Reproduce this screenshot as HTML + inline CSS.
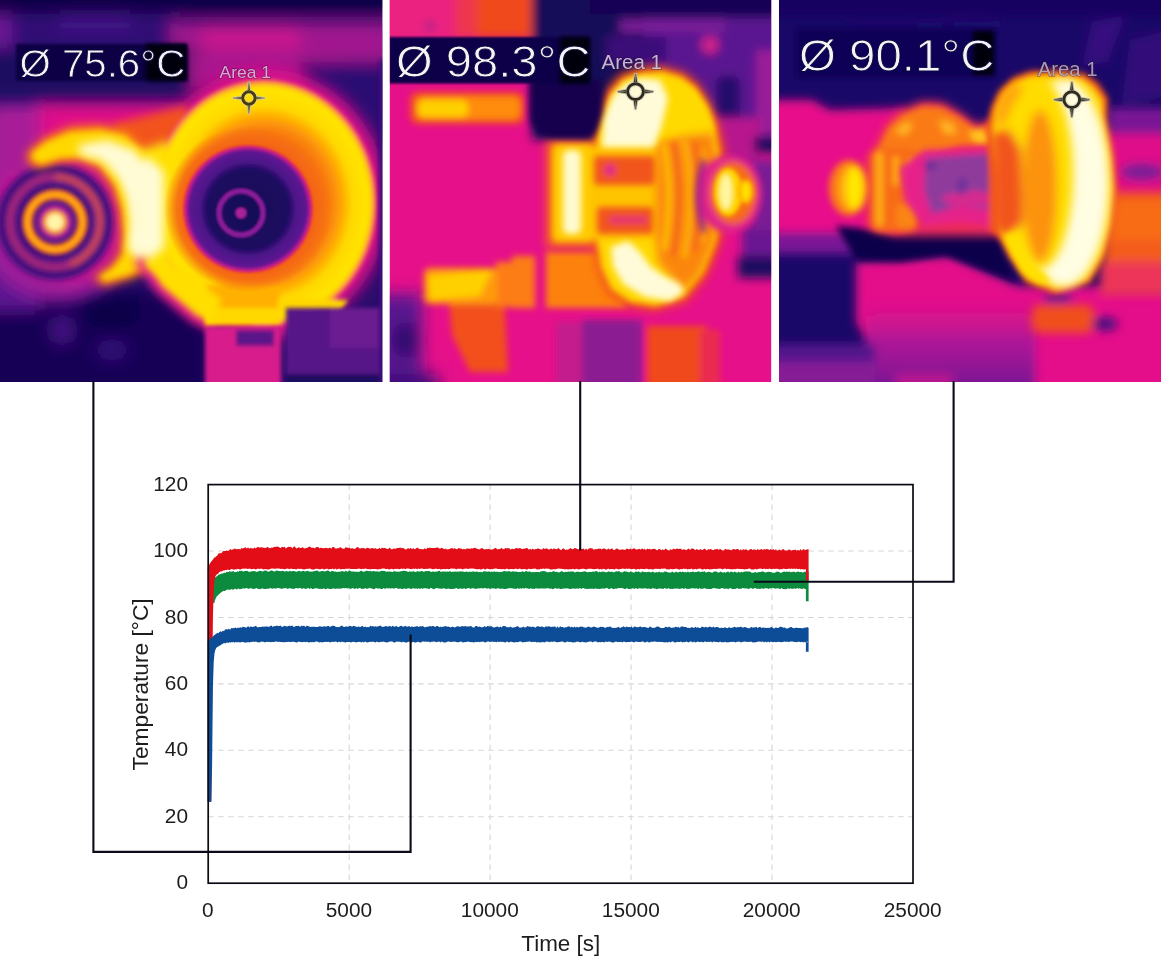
<!DOCTYPE html>
<html lang="en"><head><meta charset="utf-8"><title>Thermal images and temperature chart</title>
<style>
html,body{margin:0;padding:0;background:#fff;}
body{width:1161px;height:965px;overflow:hidden;font-family:"Liberation Sans",Arial,sans-serif;}
svg{display:block;}
</style></head><body>
<svg width="1161" height="965" viewBox="0 0 1161 965">
<rect width="1161" height="965" fill="#ffffff"/>
<defs>
<filter id="b1" x="-20%" y="-20%" width="140%" height="140%"><feGaussianBlur stdDeviation="1"/></filter>
<filter id="b2" x="-20%" y="-20%" width="140%" height="140%"><feGaussianBlur stdDeviation="2"/></filter>
<filter id="b3" x="-20%" y="-20%" width="140%" height="140%"><feGaussianBlur stdDeviation="3"/></filter>
<filter id="b5" x="-30%" y="-30%" width="160%" height="160%"><feGaussianBlur stdDeviation="5"/></filter>
<filter id="b8" x="-40%" y="-40%" width="180%" height="180%"><feGaussianBlur stdDeviation="8"/></filter>
<filter id="b12" x="-50%" y="-50%" width="200%" height="200%"><feGaussianBlur stdDeviation="12"/></filter>
<clipPath id="c1"><rect x="0" y="0" width="382.3" height="382"/></clipPath>
<clipPath id="c2"><rect x="389.8" y="0" width="381.4" height="382"/></clipPath>
<clipPath id="c3"><rect x="779" y="0" width="382" height="382"/></clipPath>
<radialGradient id="ring1" cx="0.5" cy="0.5" r="0.5">
<stop offset="0" stop-color="#f56a14"/><stop offset="0.46" stop-color="#f56a14"/><stop offset="0.6" stop-color="#fa820e"/><stop offset="0.7" stop-color="#ffac04"/>
<stop offset="0.78" stop-color="#ffd800"/><stop offset="0.93" stop-color="#ffe600"/><stop offset="0.97" stop-color="#ffa020"/><stop offset="1" stop-color="#e8208a"/>
</radialGradient>
<radialGradient id="hole1" cx="0.5" cy="0.5" r="0.5">
<stop offset="0" stop-color="#170756"/><stop offset="0.62" stop-color="#1c0960"/><stop offset="0.74" stop-color="#4c1588"/>
<stop offset="0.9" stop-color="#5e1792"/><stop offset="0.96" stop-color="#c41c8e"/><stop offset="1" stop-color="#ee3a3a"/>
</radialGradient>
<radialGradient id="glow1" cx="0.5" cy="0.5" r="0.5">
<stop offset="0.7" stop-color="#f25a18"/><stop offset="0.85" stop-color="#f56a14" stop-opacity="0.9"/><stop offset="1" stop-color="#f56a14" stop-opacity="0"/>
</radialGradient>
<linearGradient id="plate3" x1="0" y1="0" x2="0" y2="1"><stop offset="0" stop-color="#d0128c" stop-opacity="0"/><stop offset="0.45" stop-color="#a0189a" stop-opacity="0.8"/><stop offset="1" stop-color="#6c1692"/></linearGradient>
</defs>

<g clip-path="url(#c1)">
<rect x="0" y="0" width="383" height="383" fill="#2a0c6c"/>
<g filter="url(#b8)">
  <rect x="-20" y="-20" width="430" height="34" fill="#0b0446"/>
  <rect x="-20" y="14" width="200" height="30" fill="#300e76"/>
  <rect x="-20" y="16" width="32" height="50" fill="#6c1894"/>
  <rect x="60" y="16" width="70" height="14" fill="#44128a"/>
  <rect x="170" y="22" width="240" height="40" fill="#a0148e"/>
  <rect x="200" y="26" width="100" height="24" fill="#c8188e"/>
  <rect x="-20" y="48" width="225" height="48" fill="#1a0860"/>
  <rect x="190" y="52" width="150" height="36" fill="#a8168e"/>
  <rect x="300" y="62" width="100" height="80" fill="#2c0d72"/>
  <rect x="-20" y="112" width="70" height="100" fill="#7a1a98"/>
  <rect x="-30" y="290" width="240" height="120" fill="#150657"/>
  <rect x="-30" y="250" width="70" height="60" fill="#5a1590"/>
  <ellipse cx="62" cy="330" rx="10" ry="14" fill="#4a1288"/>
  <ellipse cx="112" cy="350" rx="16" ry="10" fill="#34107a"/>
  <ellipse cx="112" cy="312" rx="30" ry="18" fill="#0e0448"/>
</g>
<!-- magenta halo around hot parts -->
<g filter="url(#b8)" fill="#e0108a">
  <ellipse cx="264" cy="203" rx="124" ry="134"/>
  <circle cx="58" cy="218" r="84" fill="#9a1a9a"/>
  <circle cx="70" cy="210" r="72" fill="#c8168e"/>
  <rect x="34" y="102" width="150" height="56"/>
  <rect x="-10" y="106" width="50" height="70" fill="#a81a98"/>
</g>
<!-- small concentric rings bg -->
<g filter="url(#b3)">
  <circle cx="55" cy="222" r="58" fill="#4a1288"/>
  <circle cx="55" cy="222" r="53" fill="none" stroke="#34107a" stroke-width="8"/>
  <circle cx="55" cy="222" r="45" fill="none" stroke="#b42c78" stroke-width="6"/>
  <path d="M55,177 A45,45 0 0 1 100,222 A45,45 0 0 1 70,264" fill="none" stroke="#e2503c" stroke-width="5"/>
  <circle cx="55" cy="222" r="37.5" fill="none" stroke="#3c1080" stroke-width="6"/>
</g>
<g filter="url(#b2)">
  <circle cx="55" cy="222" r="27.5" fill="none" stroke="#f0501c" stroke-width="11"/>
  <circle cx="55" cy="222" r="27.5" fill="none" stroke="#ffa818" stroke-width="6"/>
  <circle cx="55" cy="222" r="17.5" fill="#b01c90"/>
  <circle cx="55" cy="222" r="12" fill="#ff9a18"/>
  <circle cx="55" cy="222" r="8.5" fill="#fff4a8"/>
</g>
<!-- orange region between crescent and ring, top -->
<g filter="url(#b5)">
  <path d="M112,124 L186,106 L198,142 L141,151 L120,140Z" fill="#f2521e"/>
</g>
<!-- crescent -->
<g filter="url(#b5)">
  <path d="M26,153 L45,137 L70,126 L100,124 L127,130 L141,143 L156,158 L160,200 L160,252 L154,268 L132,279 L104,286 L93,278 L110,266 L119,254 L121,235 L119,210 L112,188 L98,169 L80,161 L60,162 L40,169 L28,164Z" fill="#f87418"/>
</g>
<g filter="url(#b3)">
  <path d="M32,153 L46,142 L70,132 L100,130 L125,135 L140,148 L153,162 L156,200 L156,250 L150,264 L130,274 L105,281 L99,277 L113,268 L123,255 L125,235 L123,210 L116,186 L101,165 L80,157 L60,158 L41,164 L33,160Z" fill="#ffd800"/>
</g>
<g filter="url(#b5)">
  <path d="M78,145 L108,140 L134,150 L152,164 L156,200 L156,252 L142,262 L129,250 L131,225 L128,200 L119,178 L101,160 L80,155Z" fill="#fffbd4"/>
</g>
<!-- big ring -->
<g filter="url(#b5)"><path d="M134,262 L156,248 L232,298 L214,332 L192,322 L156,292Z" fill="#e8208a"/></g>
<g filter="url(#b2)">
  <ellipse cx="264" cy="203" rx="113" ry="124" fill="url(#ring1)"/>
  <!-- pedestal -->
  <rect x="205" y="285" width="75" height="41" fill="#ffb000"/>
  <rect x="205" y="308" width="75" height="16" fill="#ffd800"/>
  <path d="M278,298 L348,300 L340,312 L278,312Z" fill="#ffd800"/>
</g>
<g filter="url(#b3)"><path d="M146,262 L160,254 L186,272 L222,300 L212,323 L196,315 L162,286Z" fill="#ffde00"/></g>
<g filter="url(#b5)">
  <path d="M140,150 L168,140 L176,170 L176,250 L166,272 L146,268Z" fill="#ffe000"/>
</g>
<g filter="url(#b5)">
  <path d="M118,164 L150,158 L164,172 L164,248 L148,260 L132,246 L134,215 L130,190Z" fill="#fffbd4"/>
</g>
<ellipse cx="248" cy="209" rx="84" ry="83" fill="url(#glow1)"/>
<g filter="url(#b1)">
  <ellipse cx="248" cy="209" rx="65" ry="64" fill="url(#hole1)"/>
  <circle cx="241" cy="213" r="22" fill="none" stroke="#8a1c9a" stroke-width="5"/>
  <circle cx="241" cy="213" r="5.5" fill="#a8209a"/>
</g>
<!-- bottom pink bar & purple box -->
<g filter="url(#b2)">
  <rect x="205" y="327" width="76" height="70" fill="#d81c8c"/>
  <rect x="236" y="330" width="38" height="16" fill="#5a1488"/>
  <rect x="286" y="308" width="94" height="90" fill="#561688"/>
  <rect x="330" y="308" width="50" height="40" fill="#6a1a90"/>
  <rect x="286" y="374" width="94" height="20" fill="#1c0860"/>
  <rect x="379" y="60" width="10" height="330" fill="#3a1078"/>
</g>
<!-- label -->
<rect x="16" y="44" width="171" height="37" fill="#0b0544" filter="url(#b1)"/>
<rect x="146" y="44" width="41" height="37" fill="#02000e" filter="url(#b2)"/>
<text x="19.4" y="77" font-family="'Liberation Sans', Arial, sans-serif" font-size="38.6" fill="#f4f4f4" stroke="#0a0540" stroke-width="0.8" textLength="166" lengthAdjust="spacingAndGlyphs">Ø 75.6°C</text>
<text x="219.6" y="77.6" font-family="'Liberation Sans', Arial, sans-serif" font-size="16.8" fill="#e8c4e0" fill-opacity="0.85" stroke="#24102e" stroke-opacity="0.4" stroke-width="1.3" paint-order="stroke" textLength="51.4" lengthAdjust="spacingAndGlyphs">Area 1</text>
<g transform="translate(248.9,98.0)"><g fill="none" stroke="#ddd8b8" stroke-opacity="0.75"><circle r="6.2" stroke-width="4.8"/></g><path d="M-6.9,-1.8 L-16.0,-0.7 L-16.0,0.7 L-6.9,1.8Z M6.9,-1.8 L16.0,-0.7 L16.0,0.7 L6.9,1.8Z M-1.8,-6.9 L-0.7,-16.0 L0.7,-16.0 L1.8,-6.9Z M-1.8,6.9 L-0.7,16.0 L0.7,16.0 L1.8,6.9Z" fill="#4a3c12" stroke="#ddd8b8" stroke-opacity="0.7" stroke-width="1.2"/><circle r="6.2" fill="none" stroke="#4a3c12" stroke-width="3.0"/><path d="M-15.0,0H-7.7M7.7,0H15.0M0,-15.0V-7.7M0,7.7V15.0" fill="none" stroke="#ddd8b8" stroke-opacity="0.55" stroke-width="0.8"/></g>
</g>

<g clip-path="url(#c2)">
<rect x="389" y="0" width="383" height="383" fill="#e6108a"/>
<!-- background blocks -->
<g filter="url(#b5)">
  <rect x="380" y="-10" width="95" height="50" fill="#ec2480"/>
  <rect x="455" y="-10" width="30" height="48" fill="#ee3450"/>
  <rect x="476" y="-10" width="58" height="48" fill="#f0481e"/>
  <circle cx="430" cy="26" r="5" fill="#9a2090"/>
  <rect x="532" y="-10" width="250" height="150" fill="#170758"/>
  <rect x="644" y="18" width="150" height="130" fill="#5a1590"/>
  <rect x="606" y="36" width="60" height="26" fill="#3a1078"/>
  <rect x="590" y="-10" width="200" height="24" fill="#150656"/>
  <rect x="620" y="20" width="105" height="12" fill="#7a1a98"/>
  <circle cx="710" cy="45" r="9" fill="#d0208a"/>
  <rect x="716" y="76" width="24" height="48" rx="8" fill="#22096a"/>
  <rect x="756" y="50" width="30" height="84" fill="#9a1a98"/>
  <rect x="700" y="118" width="60" height="50" fill="#b8188e"/>
  <rect x="754" y="137" width="30" height="16" fill="#1c0860"/>
  <rect x="742" y="226" width="40" height="46" fill="#6a1892"/>
  <rect x="738" y="256" width="50" height="22" fill="#1c0860"/>
  <rect x="752" y="160" width="30" height="70" fill="#7a1a94"/>
  <rect x="586" y="62" width="50" height="82" fill="#190859"/>
</g>
<!-- lower-left dark purple -->
<g filter="url(#b8)">
  <rect x="370" y="294" width="52" height="110" fill="#5a1590"/>
  <ellipse cx="405" cy="340" rx="13" ry="18" fill="#2a0c6a"/>
  <rect x="380" y="374" width="58" height="20" fill="#3a0e78"/>
</g>
<!-- orange blocks -->
<g filter="url(#b3)">
  <rect x="410" y="92" width="114" height="32" rx="8" fill="#f4501c"/>
  <rect x="416" y="97" width="104" height="22" rx="6" fill="#ff8c10"/>
  <rect x="418" y="100" width="50" height="17" rx="6" fill="#ffd000"/>
  <path d="M449,300 L504,300 L508,372 L470,372 L452,335Z" fill="#f2501e"/>
  <rect x="496" y="262" width="38" height="45" fill="#fc7c12"/>
  <rect x="424" y="268" width="74" height="36" rx="6" fill="#ff9a10"/>
  <path d="M428,276 L492,270 L480,296 L430,300Z" fill="#ffd000"/>
  <rect x="546" y="252" width="80" height="56" fill="#fd8210"/>
  <rect x="512" y="256" width="23" height="52" fill="#fc7c12"/>
  <rect x="582" y="320" width="60" height="70" fill="#8c1a92"/>
  <rect x="556" y="322" width="26" height="66" fill="#c41c8c"/>
  <rect x="647" y="326" width="60" height="64" fill="#f04a1c"/>
  <rect x="700" y="330" width="20" height="60" fill="#ea2c50"/>
</g>
<!-- disc halo -->
<g filter="url(#b5)">
  <path d="M592,140 L596,116 L606,90 L620,74 L640,67 L662,66 L684,72 L698,83 L710,102 L718,122 L724,146 L727,175 L727,215 L720,244 L708,275 L687,302 L656,311 L628,307 L607,293 L597,268 L592,240Z" fill="#f2481e"/>
  <rect x="546" y="140" width="60" height="108" fill="#f4601a"/>
</g>
<!-- disc body -->
<g filter="url(#b3)">
  <path d="M597,140 L601,118 L611,93 L623,79 L640,73 L662,71 L682,77 L694,87 L706,105 L713,123 L718,146 L721,175 L721,215 L715,242 L703,272 L683,297 L656,306 L630,302 L611,289 L601,267 L597,240Z" fill="#ffd800"/>
  <rect x="552" y="144" width="42" height="98" rx="6" fill="#ffcc00"/>
  <rect x="590" y="146" width="80" height="94" fill="#ffc400"/>
</g>
<g filter="url(#b5)">
  <path d="M657,142 L712,128 L720,175 L720,215 L713,244 L700,274 L682,292 L672,278 L658,262 L656,235Z" fill="#fb8610"/>
  <path d="M656,84 L694,90 L708,112 L714,132 L664,138Z" fill="#ffda00"/>
</g>
<g filter="url(#b3)">
  <path d="M602,147 L604,118 L613,96 L625,84 L641,78 L660,80 L668,98 L662,125 L654,147Z" fill="#fffbd8"/>
  <rect x="563" y="150" width="18" height="84" rx="6" fill="#fffbd0"/>
  <path d="M611,247 L628,241 L640,252 L650,266 L664,276 L680,284 L684,292 L670,301 L645,297 L623,284 L613,266Z" fill="#fffbd8"/>
</g>
<!-- hub rects -->
<g filter="url(#b3)">
  <rect x="594" y="156" width="61" height="29" rx="4" fill="#f2541c"/>
  <rect x="597" y="207" width="56" height="27" rx="4" fill="#f2541c"/>
  <circle cx="610" cy="170" r="6" fill="#e0208a"/>
  <rect x="609" y="217" width="38" height="6" rx="3" fill="#e4247a"/>
</g>
<!-- ribs -->
<g filter="url(#b3)" fill="none" stroke-width="5">
  <path d="M664,144 Q674,195 664,250" stroke="#ffc800"/>
  <path d="M673,142 Q684,195 673,256" stroke="#f4641a"/>
  <path d="M684,140 Q696,195 684,258" stroke="#ffb808"/>
  <path d="M694,142 Q706,195 694,252" stroke="#f4641a"/>
  <path d="M703,150 Q714,195 703,244" stroke="#ffa010"/>
</g>
<!-- nose -->
<g filter="url(#b3)">
  <ellipse cx="729" cy="194" rx="33" ry="39" fill="#e0208a"/>
  <path d="M704,160 Q692,195 704,232" fill="none" stroke="#8a1c94" stroke-width="5"/>
  <ellipse cx="733" cy="193" rx="23" ry="31" fill="#f66a18"/>
</g>
<g filter="url(#b2)">
  <ellipse cx="728" cy="192" rx="14" ry="24" fill="#ffd800"/>
  <ellipse cx="726" cy="192" rx="6" ry="17" fill="#fff6a0"/>
  <ellipse cx="746" cy="191.5" rx="8" ry="13" fill="#ff9a10"/>
  <ellipse cx="746" cy="191.5" rx="5" ry="10" fill="#ffe000"/>
</g>
<!-- dark shoulder under label -->
<g filter="url(#b3)">
  <path d="M530,80 H602 V112 Q598,132 590,138 H552 Q534,136 530,118Z" fill="#12064e"/>
</g>
<!-- label -->
<rect x="389" y="37" width="201" height="46.5" fill="#0b0448" filter="url(#b1)"/>
<rect x="560" y="37" width="30" height="46.5" fill="#02000e" filter="url(#b2)"/>
<text x="396" y="77.2" font-family="'Liberation Sans', Arial, sans-serif" font-size="44.6" fill="#f4f4f4" stroke="#0a0540" stroke-width="0.9" textLength="194.5" lengthAdjust="spacingAndGlyphs">Ø 98.3°C</text>
<text x="601.5" y="68.6" font-family="'Liberation Sans', Arial, sans-serif" font-size="19.6" fill="#d6c8e0" fill-opacity="0.9" stroke="#24102e" stroke-opacity="0.4" stroke-width="1.3" paint-order="stroke" textLength="60.5" lengthAdjust="spacingAndGlyphs">Area 1</text>
<g transform="translate(635.5,91.6)"><g fill="none" stroke="#d4d0c0" stroke-opacity="0.75"><circle r="7.9" stroke-width="5.2"/></g><path d="M-8.9,-2.3 L-18.0,-0.9 L-18.0,0.9 L-8.9,2.3Z M8.9,-2.3 L18.0,-0.9 L18.0,0.9 L8.9,2.3Z M-2.3,-8.9 L-0.9,-18.0 L0.9,-18.0 L2.3,-8.9Z M-2.3,8.9 L-0.9,18.0 L0.9,18.0 L2.3,8.9Z" fill="#2e2a1c" stroke="#d4d0c0" stroke-opacity="0.7" stroke-width="1.2"/><circle r="7.9" fill="none" stroke="#2e2a1c" stroke-width="2.9"/><path d="M-17.0,0H-9.7M9.7,0H17.0M0,-17.0V-9.7M0,9.7V17.0" fill="none" stroke="#d4d0c0" stroke-opacity="0.55" stroke-width="0.8"/></g>
</g>

<g clip-path="url(#c3)">
<rect x="778" y="0" width="384" height="383" fill="#1a0868"/>
<g filter="url(#b5)">
  <rect x="770" y="-10" width="400" height="26" fill="#140660"/>
  <path d="M1092,22 L1125,16 L1108,62 L1082,66Z" fill="#34107e"/>
  <path d="M1130,40 L1170,30 L1170,96 L1122,104Z" fill="#30107a"/>
  <path d="M850,24 L1000,20 L1000,28 L850,30Z" fill="#24096e"/>
  <!-- pink mid left -->
  <path d="M770,100 L812,100 L830,110 L905,108 L905,240 L770,240Z" fill="#e8108a"/>
  <!-- right magenta gradient -->
  <rect x="1108" y="108" width="70" height="30" fill="#7a1894"/>
  <rect x="1104" y="134" width="70" height="70" fill="#e0108a"/>
  <ellipse cx="1142" cy="172" rx="22" ry="9" fill="#7a1a94"/>
  <!-- lower pink plate -->
  <path d="M856,262 L950,256 L1018,286 L1170,286 L1170,395 L880,395 L872,352 L856,322Z" fill="#e4108a"/>
  <rect x="866" y="296" width="170" height="100" fill="url(#plate3)"/>
  <rect x="896" y="374" width="56" height="20" fill="#b8148e"/>
  <!-- left purple gradient -->
  <rect x="765" y="232" width="92" height="22" fill="#7a1896"/>
  <rect x="765" y="344" width="110" height="22" fill="#54148c"/>
  <rect x="765" y="362" width="110" height="30" fill="#861a96"/>
</g>
<!-- dark band -->
<g filter="url(#b3)">
  <path d="M836,226 L880,230 L893,234 L930,228 L994,230 L1016,282 L990,272 L945,255 L900,262 L856,260Z" fill="#10054c"/>
</g>
<!-- right shaft orange -->
<g filter="url(#b5)">
  <rect x="1104" y="192" width="70" height="76" fill="#f45c1a"/>
  <rect x="1104" y="200" width="70" height="40" fill="#f86c16"/>
  <rect x="1032" y="305" width="62" height="28" rx="8" fill="#f0501c"/>
  <rect x="1100" y="262" width="70" height="34" fill="#ec3458"/>
  <ellipse cx="1058" cy="298" rx="15" ry="5" fill="#5a1488"/>
  <ellipse cx="1105" cy="324" rx="13" ry="7" fill="#4a1080"/>
</g>
<!-- arm / coupling -->
<g filter="url(#b5)">
  <path d="M872,150 L885,124 L900,110 L922,101 L942,102 L960,112 L976,124 L994,120 L1008,140 L1010,236 L940,236 L895,236 L866,228 L864,160Z" fill="#ee2c5c"/>
</g>
<g filter="url(#b3)">
  <path d="M877,150 L889,126 L903,114 L923,106 L941,107 L958,116 L975,128 L992,125 L1004,146 L960,146 L923,160 L900,150Z" fill="#fa7a16"/>
  <path d="M894,132 L904,122 L914,124 L906,136Z" fill="#ffb020"/>
  <path d="M938,120 L952,122 L958,134 L944,134Z" fill="#ffb020"/>
  <path d="M968,132 L980,130 L1000,136 L998,144 L976,142Z" fill="#ffc820"/>
  <rect x="870" y="148" width="48" height="84" rx="10" fill="#f86c18"/>
  <rect x="876" y="152" width="7" height="74" rx="3" fill="#ffb018"/>
  <rect x="893" y="156" width="6" height="30" rx="3" fill="#ffb018"/>
  <rect x="908" y="158" width="6" height="24" rx="3" fill="#ffa818"/>
  <rect x="896" y="204" width="20" height="24" rx="6" fill="#fb8414"/>
</g>
<g filter="url(#b3)">
  <path d="M900,168 L924,150 L1002,147 L1010,214 L990,226 L960,222 L924,226 L904,200Z" fill="#e6208a"/>
  <path d="M926,158 L996,153 L1004,196 L994,210 L960,206 L932,214 L924,190Z" fill="#8e3a9c"/>
  <path d="M940,196 L975,190 L1000,196 L990,206 L950,206Z" fill="#d62a90"/>
  <ellipse cx="962" cy="186" rx="5" ry="9" fill="#70309a"/>
  <ellipse cx="930" cy="166" rx="6" ry="4" fill="#6a2c98"/>
  <rect x="990" y="140" width="45" height="92" fill="#f2541c"/>
</g>
<g filter="url(#b3)">
  <ellipse cx="849" cy="188" rx="20" ry="28" fill="#fa7a16"/>
  <ellipse cx="852" cy="188" rx="13" ry="23" fill="#ffb410"/>
  <ellipse cx="854.5" cy="188" rx="8" ry="20" fill="#ffe600"/>
</g>
<!-- disc -->
<g filter="url(#b3)">
  <path d="M986,130 L991,108 L1000,90 L1014,77 L1030,71 L1060,70 L1084,73 L1098,83 L1108,98 L1107,118 L1114,156 L1117,190 L1114,224 L1106,256 L1090,283 L1056,294 L1026,283 L1008,256 L996,232 L994,180Z" fill="#f2501c"/>
</g>
<g filter="url(#b3)">
  <path d="M992,130 L996,109 L1004,93 L1016,81 L1030,76 L1060,75 L1082,78 L1094,87 L1103,100 L1103,118 L1110,156 L1113,190 L1110,224 L1102,255 L1087,280 L1056,290 L1028,279 L1011,255 L1000,232 L1000,180Z" fill="#ffd800"/>
</g>
<g filter="url(#b5)">
  <ellipse cx="1064" cy="183" rx="45" ry="104" fill="#fffde2"/>
</g>
<g filter="url(#b5)">
  <ellipse cx="1040" cy="174" rx="33" ry="95" fill="#ffdc00"/>
  <ellipse cx="1040" cy="186" rx="17" ry="76" fill="#fc9210"/>
  <path d="M992,134 L1010,130 L1021,150 L1023,224 L1006,236 L994,226Z" fill="#f2541c"/>
  <path d="M1000,96 L1014,83 L1024,88 L1012,106 L1004,124 L994,124Z" fill="#ffa410"/>
</g>
<g filter="url(#b3)">
  <path d="M1004,236 L1016,232 L1030,262 L1050,280 L1040,284 L1022,272Z" fill="#ffe000"/>
</g>
<!-- label -->
<rect x="796" y="28" width="199" height="50" fill="#100556" filter="url(#b3)"/>
<rect x="973" y="31" width="21" height="44" fill="#02000e" filter="url(#b2)"/>
<text x="799" y="70.6" font-family="'Liberation Sans', Arial, sans-serif" font-size="44.6" fill="#f4f4f4" stroke="#0a0540" stroke-width="0.9" textLength="195.5" lengthAdjust="spacingAndGlyphs">Ø 90.1°C</text>
<text x="1037.7" y="75.6" font-family="'Liberation Sans', Arial, sans-serif" font-size="19.6" fill="#bcb4c4" fill-opacity="0.85" stroke="#24102e" stroke-opacity="0.4" stroke-width="1.3" paint-order="stroke" textLength="60" lengthAdjust="spacingAndGlyphs">Area 1</text>
<g transform="translate(1071.8,99.6)"><g fill="none" stroke="#d4d0c0" stroke-opacity="0.75"><circle r="7.9" stroke-width="5.2"/></g><path d="M-8.9,-2.3 L-18.0,-0.9 L-18.0,0.9 L-8.9,2.3Z M8.9,-2.3 L18.0,-0.9 L18.0,0.9 L8.9,2.3Z M-2.3,-8.9 L-0.9,-18.0 L0.9,-18.0 L2.3,-8.9Z M-2.3,8.9 L-0.9,18.0 L0.9,18.0 L2.3,8.9Z" fill="#2e2a1c" stroke="#d4d0c0" stroke-opacity="0.7" stroke-width="1.2"/><circle r="7.9" fill="none" stroke="#2e2a1c" stroke-width="2.9"/><path d="M-17.0,0H-9.7M9.7,0H17.0M0,-17.0V-9.7M0,9.7V17.0" fill="none" stroke="#d4d0c0" stroke-opacity="0.55" stroke-width="0.8"/></g>
</g>

<g stroke="#d6d6d6" stroke-width="1.1" stroke-dasharray="5.5 4.5" fill="none"><line x1="208.2" y1="816.8" x2="913.0" y2="816.8"/><line x1="208.2" y1="750.3" x2="913.0" y2="750.3"/><line x1="208.2" y1="683.9" x2="913.0" y2="683.9"/><line x1="208.2" y1="617.5" x2="913.0" y2="617.5"/><line x1="208.2" y1="551.0" x2="913.0" y2="551.0"/><line x1="349.2" y1="484.6" x2="349.2" y2="883.2"/><line x1="490.1" y1="484.6" x2="490.1" y2="883.2"/><line x1="631.1" y1="484.6" x2="631.1" y2="883.2"/><line x1="772.0" y1="484.6" x2="772.0" y2="883.2"/></g>
<path d="M210.7,603.0 210.7,582.1 211.1,582.1 211.9,581.0 212.7,579.9 213.5,578.9 214.3,578.2 215.1,577.4 215.9,576.7 216.7,576.5 217.5,575.7 218.3,574.8 219.1,574.4 219.9,574.5 220.7,573.8 221.5,573.8 222.3,573.7 223.1,573.1 223.9,573.2 224.7,572.4 225.5,573.0 226.3,572.0 227.1,571.8 227.9,572.1 228.7,572.0 229.5,571.3 230.3,571.3 231.1,572.2 231.9,571.1 232.7,571.5 233.5,571.1 234.3,572.2 235.1,571.9 235.9,572.1 236.7,572.0 237.5,570.9 238.3,571.9 239.1,571.1 239.9,570.8 240.7,571.0 242.0,570.7 243.3,571.8 244.6,570.9 245.9,570.9 247.2,570.7 248.5,571.8 249.8,571.7 251.1,571.5 252.4,571.2 253.7,570.9 255.0,571.2 256.3,571.7 257.6,571.8 258.9,571.0 260.2,570.8 261.5,571.2 262.8,571.5 264.1,570.7 265.4,570.5 266.7,570.8 268.0,571.8 269.3,571.4 270.6,570.4 271.9,570.6 273.2,571.0 274.5,571.7 275.8,570.8 277.1,570.5 278.4,570.9 279.7,570.9 281.0,571.3 282.3,570.7 283.6,571.1 284.9,571.8 286.2,570.7 287.5,571.4 288.8,571.6 290.1,570.8 291.4,571.4 292.7,571.0 294.0,571.1 295.3,571.5 296.6,571.7 297.9,571.2 299.2,570.8 300.5,571.6 301.8,571.3 303.1,570.7 304.4,571.3 305.7,571.4 307.0,570.7 308.3,570.9 309.6,571.7 310.9,571.5 312.2,571.7 313.5,571.2 314.8,571.1 316.1,570.7 317.4,570.6 318.7,571.6 320.0,571.7 321.3,570.9 322.6,571.1 323.9,571.3 325.2,571.4 326.5,570.8 327.8,570.6 329.1,570.9 330.4,571.9 331.7,571.0 333.0,571.0 334.3,571.8 335.6,571.5 336.9,571.9 338.2,571.7 339.5,571.8 340.8,571.6 342.1,571.0 343.4,571.4 344.7,571.8 346.0,570.6 347.3,571.9 348.6,570.8 349.9,570.6 351.2,571.5 352.5,571.6 353.8,571.4 355.1,571.7 356.4,571.8 357.7,571.8 359.0,571.9 360.3,570.9 361.6,570.7 362.9,571.7 364.2,571.8 365.5,571.0 366.8,570.8 368.1,570.9 369.4,571.2 370.7,571.0 372.0,571.6 373.3,571.1 374.6,571.3 375.9,571.5 377.2,571.2 378.5,571.7 379.8,571.6 381.1,570.9 382.4,570.8 383.7,570.9 385.0,570.9 386.3,572.0 387.6,571.3 388.9,571.8 390.2,571.4 391.5,571.8 392.8,572.0 394.1,571.0 395.4,571.4 396.7,571.6 398.0,571.8 399.3,571.8 400.6,571.2 401.9,571.2 403.2,570.8 404.5,570.7 405.8,571.1 407.1,571.4 408.4,571.9 409.7,571.3 411.0,571.8 412.3,571.6 413.6,571.2 414.9,571.9 416.2,571.8 417.5,571.3 418.8,571.5 420.1,571.4 421.4,571.1 422.7,571.2 424.0,571.9 425.3,571.0 426.6,571.2 427.9,571.0 429.2,571.0 430.5,571.8 431.8,572.1 433.1,571.3 434.4,571.9 435.7,571.4 437.0,571.7 438.3,571.0 439.6,570.8 440.9,571.9 442.2,571.5 443.5,571.4 444.8,571.6 446.1,571.8 447.4,571.4 448.7,571.8 450.0,571.1 451.3,572.0 452.6,571.8 453.9,571.7 455.2,571.4 456.5,571.7 457.8,571.4 459.1,571.8 460.4,571.2 461.7,571.4 463.0,571.4 464.3,572.1 465.6,571.7 466.9,571.4 468.2,572.2 469.5,571.6 470.8,571.9 472.1,571.6 473.4,571.6 474.7,571.8 476.0,571.7 477.3,571.6 478.6,572.2 479.9,571.8 481.2,571.9 482.5,572.2 483.8,570.9 485.1,571.4 486.4,571.4 487.7,571.8 489.0,571.2 490.3,571.9 491.6,571.6 492.9,572.0 494.2,571.2 495.5,572.0 496.8,571.8 498.1,571.7 499.4,572.2 500.7,571.8 502.0,572.0 503.3,571.3 504.6,571.1 505.9,571.4 507.2,571.3 508.5,571.3 509.8,571.2 511.1,571.9 512.4,571.3 513.7,571.6 515.0,571.8 516.3,571.4 517.6,572.1 518.9,572.1 520.2,572.0 521.5,572.1 522.8,570.9 524.1,572.3 525.4,571.3 526.7,571.1 528.0,572.0 529.3,571.2 530.6,572.1 531.9,572.2 533.2,572.0 534.5,572.2 535.8,572.1 537.1,571.9 538.4,572.0 539.7,572.2 541.0,571.3 542.3,571.2 543.6,571.1 544.9,571.2 546.2,571.7 547.5,572.2 548.8,572.2 550.1,571.8 551.4,572.2 552.7,571.6 554.0,571.1 555.3,571.9 556.6,571.8 557.9,572.3 559.2,572.4 560.5,571.7 561.8,571.1 563.1,571.9 564.4,572.2 565.7,571.7 567.0,572.1 568.3,571.6 569.6,571.8 570.9,571.4 572.2,571.6 573.5,571.4 574.8,572.4 576.1,572.1 577.4,571.5 578.7,571.9 580.0,572.1 581.3,572.1 582.6,571.8 583.9,571.5 585.2,571.3 586.5,571.9 587.8,572.2 589.1,571.9 590.4,571.9 591.7,571.9 593.0,571.4 594.3,571.7 595.6,571.2 596.9,571.1 598.2,572.4 599.5,571.6 600.8,572.2 602.1,571.4 603.4,571.7 604.7,571.7 606.0,572.4 607.3,571.9 608.6,571.3 609.9,571.9 611.2,571.7 612.5,571.7 613.8,572.4 615.1,571.8 616.4,571.3 617.7,571.4 619.0,571.1 620.3,572.1 621.6,572.5 622.9,572.3 624.2,571.2 625.5,571.5 626.8,571.4 628.1,572.2 629.4,572.3 630.7,571.3 632.0,572.1 633.3,572.5 634.6,572.5 635.9,571.2 637.2,572.1 638.5,571.3 639.8,572.2 641.1,572.4 642.4,571.3 643.7,572.0 645.0,572.1 646.3,572.3 647.6,572.1 648.9,571.8 650.2,572.3 651.5,572.3 652.8,571.6 654.1,572.6 655.4,572.4 656.7,572.0 658.0,572.4 659.3,571.6 660.6,572.4 661.9,572.2 663.2,572.5 664.5,571.6 665.8,571.6 667.1,572.0 668.4,572.5 669.7,572.4 671.0,572.4 672.3,571.6 673.6,572.4 674.9,572.5 676.2,571.4 677.5,572.4 678.8,572.3 680.1,571.6 681.4,572.2 682.7,571.5 684.0,572.3 685.3,571.9 686.6,572.4 687.9,571.6 689.2,572.5 690.5,572.0 691.8,572.1 693.1,571.5 694.4,572.3 695.7,572.1 697.0,572.0 698.3,571.3 699.6,571.8 700.9,572.2 702.2,571.5 703.5,571.8 704.8,571.3 706.1,572.7 707.4,572.0 708.7,571.7 710.0,571.9 711.3,572.4 712.6,572.7 713.9,571.4 715.2,571.6 716.5,571.4 717.8,572.5 719.1,572.6 720.4,571.4 721.7,571.9 723.0,572.7 724.3,572.1 725.6,572.7 726.9,571.9 728.2,571.6 729.5,572.7 730.8,571.4 732.1,571.8 733.4,572.6 734.7,571.4 736.0,572.3 737.3,572.7 738.6,571.6 739.9,572.7 741.2,571.8 742.5,572.4 743.8,571.8 745.1,571.5 746.4,571.6 747.7,571.6 749.0,571.4 750.3,571.7 751.6,572.7 752.9,572.7 754.2,572.6 755.5,572.0 756.8,572.7 758.1,572.3 759.4,571.9 760.7,572.1 762.0,571.6 763.3,571.5 764.6,572.2 765.9,572.6 767.2,572.0 768.5,571.8 769.8,571.9 771.1,572.1 772.4,572.7 773.7,572.8 775.0,572.7 776.3,571.7 777.6,571.8 778.9,571.7 780.2,572.8 781.5,572.7 782.8,571.9 784.1,571.5 785.4,571.9 786.7,571.5 788.0,571.9 789.3,571.5 790.6,572.2 791.9,572.1 793.2,571.8 794.5,571.7 795.8,572.6 797.1,571.8 798.4,571.6 799.7,572.2 801.0,571.8 802.3,572.5 803.6,572.3 804.9,571.6 806.2,572.1 807.5,571.6 808.6,571.6 808.6,601.3 805.9,601.3 805.9,589.0 807.5,589.0 806.2,588.9 804.9,588.9 803.6,588.2 802.3,589.0 801.0,588.7 799.7,588.3 798.4,588.7 797.1,588.1 795.8,588.9 794.5,588.2 793.2,588.7 791.9,589.1 790.6,588.2 789.3,589.0 788.0,588.2 786.7,589.0 785.4,589.2 784.1,588.9 782.8,589.1 781.5,588.1 780.2,589.2 778.9,588.4 777.6,588.3 776.3,588.6 775.0,588.8 773.7,588.1 772.4,588.1 771.1,588.4 769.8,588.2 768.5,589.0 767.2,588.2 765.9,588.3 764.6,588.2 763.3,588.9 762.0,588.3 760.7,588.8 759.4,589.0 758.1,588.5 756.8,589.0 755.5,588.1 754.2,588.2 752.9,589.0 751.6,588.3 750.3,588.0 749.0,588.9 747.7,588.8 746.4,588.3 745.1,588.6 743.8,588.3 742.5,588.1 741.2,588.7 739.9,588.8 738.6,588.9 737.3,588.1 736.0,588.8 734.7,588.9 733.4,589.0 732.1,589.1 730.8,588.3 729.5,588.3 728.2,589.2 726.9,588.5 725.6,588.8 724.3,588.8 723.0,588.3 721.7,588.1 720.4,588.7 719.1,589.1 717.8,588.5 716.5,588.7 715.2,588.1 713.9,588.2 712.6,588.3 711.3,589.0 710.0,589.1 708.7,588.9 707.4,588.7 706.1,589.0 704.8,588.0 703.5,588.6 702.2,588.7 700.9,588.9 699.6,588.1 698.3,589.2 697.0,588.2 695.7,588.5 694.4,588.4 693.1,588.2 691.8,588.2 690.5,588.6 689.2,589.1 687.9,588.7 686.6,588.9 685.3,588.1 684.0,588.9 682.7,588.3 681.4,588.6 680.1,588.7 678.8,589.1 677.5,588.2 676.2,588.7 674.9,588.4 673.6,588.8 672.3,589.0 671.0,588.7 669.7,589.0 668.4,588.1 667.1,589.0 665.8,588.5 664.5,588.0 663.2,589.0 661.9,588.7 660.6,588.5 659.3,588.5 658.0,588.7 656.7,589.2 655.4,588.4 654.1,588.8 652.8,588.1 651.5,588.7 650.2,589.1 648.9,588.5 647.6,588.8 646.3,588.4 645.0,588.2 643.7,588.5 642.4,588.4 641.1,588.6 639.8,588.2 638.5,588.4 637.2,589.0 635.9,588.0 634.6,588.9 633.3,588.3 632.0,588.6 630.7,588.8 629.4,588.9 628.1,588.9 626.8,588.1 625.5,588.9 624.2,588.9 622.9,588.2 621.6,588.1 620.3,588.1 619.0,588.0 617.7,588.2 616.4,588.8 615.1,588.5 613.8,589.2 612.5,588.7 611.2,588.0 609.9,589.1 608.6,589.0 607.3,588.0 606.0,588.1 604.7,588.8 603.4,588.4 602.1,588.4 600.8,588.7 599.5,589.0 598.2,588.8 596.9,588.9 595.6,588.2 594.3,588.9 593.0,588.8 591.7,588.8 590.4,588.8 589.1,588.7 587.8,589.1 586.5,588.8 585.2,589.1 583.9,588.0 582.6,588.1 581.3,589.1 580.0,588.0 578.7,588.8 577.4,588.4 576.1,588.4 574.8,588.8 573.5,588.6 572.2,588.6 570.9,589.0 569.6,589.0 568.3,588.5 567.0,588.3 565.7,588.6 564.4,588.4 563.1,588.4 561.8,588.9 560.5,589.1 559.2,588.6 557.9,588.4 556.6,588.8 555.3,588.0 554.0,588.8 552.7,589.2 551.4,588.4 550.1,588.8 548.8,588.6 547.5,588.0 546.2,588.6 544.9,588.6 543.6,588.6 542.3,588.6 541.0,588.3 539.7,588.7 538.4,588.5 537.1,588.6 535.8,588.2 534.5,588.9 533.2,588.8 531.9,588.7 530.6,588.2 529.3,589.1 528.0,588.4 526.7,588.3 525.4,588.1 524.1,588.8 522.8,588.0 521.5,588.8 520.2,588.2 518.9,589.1 517.6,588.1 516.3,589.1 515.0,588.8 513.7,588.5 512.4,588.4 511.1,588.3 509.8,588.0 508.5,588.5 507.2,588.5 505.9,589.0 504.6,589.0 503.3,588.7 502.0,588.6 500.7,589.0 499.4,588.4 498.1,588.3 496.8,588.6 495.5,589.0 494.2,588.2 492.9,588.5 491.6,588.3 490.3,589.1 489.0,588.3 487.7,588.4 486.4,588.5 485.1,588.0 483.8,588.3 482.5,588.4 481.2,588.1 479.9,588.5 478.6,588.3 477.3,588.5 476.0,589.0 474.7,588.6 473.4,588.6 472.1,588.1 470.8,589.1 469.5,588.2 468.2,588.0 466.9,588.6 465.6,588.9 464.3,588.2 463.0,588.8 461.7,588.7 460.4,588.5 459.1,588.8 457.8,588.9 456.5,588.1 455.2,588.4 453.9,588.8 452.6,589.0 451.3,588.9 450.0,588.9 448.7,588.5 447.4,588.7 446.1,589.1 444.8,588.5 443.5,588.2 442.2,588.8 440.9,588.8 439.6,588.5 438.3,588.5 437.0,588.1 435.7,588.2 434.4,588.9 433.1,589.2 431.8,588.1 430.5,588.1 429.2,589.2 427.9,588.4 426.6,588.6 425.3,588.3 424.0,588.2 422.7,588.8 421.4,588.2 420.1,589.1 418.8,588.2 417.5,588.9 416.2,588.2 414.9,588.8 413.6,588.2 412.3,588.4 411.0,588.9 409.7,588.6 408.4,588.3 407.1,588.5 405.8,589.1 404.5,588.2 403.2,589.1 401.9,589.1 400.6,588.5 399.3,588.8 398.0,588.8 396.7,588.1 395.4,588.1 394.1,588.8 392.8,588.3 391.5,588.3 390.2,588.4 388.9,588.2 387.6,588.6 386.3,588.0 385.0,588.9 383.7,588.0 382.4,589.0 381.1,589.0 379.8,588.6 378.5,588.4 377.2,588.5 375.9,588.0 374.6,589.0 373.3,589.2 372.0,588.4 370.7,588.3 369.4,588.0 368.1,588.4 366.8,588.9 365.5,588.1 364.2,588.8 362.9,588.8 361.6,589.0 360.3,588.1 359.0,588.1 357.7,589.1 356.4,588.1 355.1,589.0 353.8,588.4 352.5,588.1 351.2,588.8 349.9,588.8 348.6,588.0 347.3,588.4 346.0,588.1 344.7,588.2 343.4,588.1 342.1,588.3 340.8,588.7 339.5,588.5 338.2,588.8 336.9,588.6 335.6,588.8 334.3,588.8 333.0,588.3 331.7,589.1 330.4,588.9 329.1,588.9 327.8,588.3 326.5,589.1 325.2,589.2 323.9,588.3 322.6,588.9 321.3,588.7 320.0,588.9 318.7,588.8 317.4,588.4 316.1,588.3 314.8,588.3 313.5,588.9 312.2,588.9 310.9,588.0 309.6,588.9 308.3,588.1 307.0,588.4 305.7,589.0 304.4,588.6 303.1,588.2 301.8,589.1 300.5,588.0 299.2,588.1 297.9,588.5 296.6,588.1 295.3,588.3 294.0,589.1 292.7,588.8 291.4,588.7 290.1,588.0 288.8,588.5 287.5,589.0 286.2,588.1 284.9,588.3 283.6,588.2 282.3,588.7 281.0,588.7 279.7,588.3 278.4,588.1 277.1,588.0 275.8,588.8 274.5,588.2 273.2,588.6 271.9,588.7 270.6,588.0 269.3,588.4 268.0,588.7 266.7,588.8 265.4,589.0 264.1,588.9 262.8,588.5 261.5,588.4 260.2,589.2 258.9,589.0 257.6,588.8 256.3,588.1 255.0,588.7 253.7,589.1 252.4,588.8 251.1,588.2 249.8,588.2 248.5,588.9 247.2,588.2 245.9,588.1 244.6,588.7 243.3,588.3 242.0,588.7 240.7,589.1 239.9,589.2 239.1,589.1 238.3,588.3 237.5,589.2 236.7,589.4 235.9,588.9 235.1,588.6 234.3,589.3 233.5,589.5 232.7,589.7 231.9,589.2 231.1,589.3 230.3,589.7 229.5,589.7 228.7,589.7 227.9,589.4 227.1,589.6 226.3,590.2 225.5,590.4 224.7,591.0 223.9,591.0 223.1,590.8 222.3,591.7 221.5,592.1 220.7,592.7 219.9,593.4 219.1,594.1 218.3,595.0 217.5,595.8 216.7,596.4 215.9,598.2 215.1,599.7 214.3,603.0 213.5,603.0 212.7,603.0 211.9,603.0 211.1,603.0Z" fill="#0c8a3e"/>
<path d="M207.7,801.8 207.7,566.9 208.1,566.9 208.9,565.3 209.7,564.1 210.5,562.6 211.3,561.6 212.1,560.4 212.9,559.6 213.7,558.6 214.5,557.3 215.3,557.4 216.1,555.9 216.9,556.3 217.7,554.8 218.5,553.6 219.3,553.5 220.1,552.7 220.9,553.6 221.7,552.8 222.5,552.0 223.3,551.0 224.1,550.9 224.9,551.1 225.7,551.1 226.5,550.3 227.3,550.9 228.1,550.4 228.9,550.8 229.7,549.4 230.5,548.9 231.3,550.1 232.1,549.4 232.9,549.6 233.7,549.3 234.5,548.6 235.3,549.1 236.1,548.7 236.9,549.6 237.7,549.0 239.0,548.9 240.3,549.4 241.6,547.9 242.9,548.6 244.2,548.1 245.5,547.3 246.8,548.6 248.1,547.5 249.4,548.7 250.7,547.8 252.0,548.6 253.3,548.5 254.6,547.6 255.9,548.5 257.2,547.0 258.5,547.2 259.8,547.6 261.1,547.2 262.4,547.5 263.7,547.8 265.0,548.0 266.3,547.8 267.6,546.7 268.9,548.1 270.2,548.2 271.5,547.4 272.8,547.8 274.1,546.7 275.4,546.9 276.7,546.6 278.0,546.8 279.3,547.3 280.6,548.3 281.9,546.8 283.2,547.2 284.5,546.8 285.8,548.5 287.1,547.5 288.4,546.7 289.7,547.0 291.0,546.8 292.3,548.4 293.6,546.8 294.9,546.6 296.2,548.5 297.5,547.9 298.8,547.3 300.1,548.1 301.4,548.1 302.7,547.0 304.0,548.5 305.3,548.2 306.6,548.0 307.9,547.6 309.2,546.6 310.5,547.1 311.8,548.0 313.1,547.5 314.4,548.6 315.7,547.4 317.0,547.1 318.3,547.1 319.6,548.5 320.9,547.6 322.2,548.3 323.5,548.0 324.8,548.3 326.1,547.7 327.4,548.3 328.7,548.3 330.0,547.5 331.3,548.7 332.6,547.1 333.9,547.1 335.2,548.4 336.5,548.5 337.8,548.2 339.1,548.0 340.4,546.9 341.7,548.2 343.0,548.8 344.3,548.7 345.6,547.3 346.9,547.5 348.2,548.1 349.5,547.8 350.8,548.8 352.1,547.9 353.4,548.8 354.7,548.9 356.0,548.1 357.3,547.1 358.6,547.4 359.9,548.7 361.2,548.0 362.5,548.2 363.8,548.1 365.1,548.7 366.4,548.3 367.7,547.7 369.0,548.2 370.3,548.7 371.6,548.1 372.9,548.2 374.2,548.6 375.5,548.3 376.8,549.1 378.1,549.0 379.4,547.8 380.7,549.1 382.0,547.5 383.3,548.2 384.6,547.8 385.9,548.6 387.2,549.1 388.5,548.7 389.8,547.6 391.1,549.3 392.4,549.2 393.7,548.3 395.0,549.0 396.3,548.2 397.6,548.0 398.9,548.0 400.2,547.4 401.5,548.3 402.8,548.0 404.1,548.4 405.4,549.4 406.7,549.3 408.0,547.9 409.3,549.0 410.6,547.7 411.9,549.3 413.2,548.0 414.5,549.3 415.8,548.8 417.1,547.6 418.4,548.3 419.7,549.3 421.0,549.1 422.3,549.2 423.6,549.2 424.9,548.2 426.2,549.3 427.5,547.8 428.8,548.0 430.1,547.8 431.4,547.9 432.7,548.1 434.0,548.1 435.3,547.9 436.6,547.6 437.9,547.6 439.2,548.6 440.5,548.5 441.8,547.8 443.1,548.4 444.4,549.2 445.7,548.6 447.0,549.5 448.3,549.2 449.6,548.9 450.9,548.3 452.2,547.9 453.5,549.1 454.8,547.9 456.1,549.3 457.4,549.0 458.7,548.1 460.0,548.5 461.3,548.5 462.6,549.6 463.9,548.7 465.2,549.6 466.5,548.4 467.8,548.4 469.1,548.7 470.4,548.7 471.7,548.2 473.0,548.5 474.3,547.7 475.6,548.1 476.9,548.7 478.2,549.0 479.5,549.5 480.8,548.4 482.1,548.0 483.4,549.0 484.7,549.4 486.0,549.0 487.3,549.3 488.6,548.8 489.9,549.4 491.2,549.4 492.5,549.5 493.8,549.1 495.1,547.8 496.4,548.5 497.7,549.4 499.0,549.0 500.3,549.1 501.6,547.8 502.9,549.3 504.2,548.9 505.5,547.9 506.8,548.3 508.1,548.3 509.4,548.2 510.7,549.8 512.0,548.6 513.3,549.2 514.6,549.1 515.9,548.0 517.2,548.3 518.5,548.4 519.8,547.9 521.1,548.4 522.4,549.2 523.7,548.4 525.0,548.8 526.3,548.1 527.6,548.3 528.9,549.7 530.2,548.8 531.5,549.8 532.8,548.4 534.1,549.8 535.4,549.1 536.7,549.0 538.0,548.2 539.3,548.9 540.6,549.3 541.9,549.7 543.2,548.0 544.5,548.9 545.8,548.5 547.1,548.6 548.4,549.6 549.7,549.5 551.0,548.2 552.3,549.4 553.6,548.5 554.9,548.8 556.2,549.2 557.5,548.8 558.8,548.1 560.1,549.7 561.4,549.9 562.7,548.5 564.0,548.4 565.3,549.9 566.6,549.6 567.9,549.8 569.2,549.1 570.5,548.1 571.8,548.9 573.1,549.3 574.4,548.1 575.7,548.3 577.0,548.7 578.3,549.5 579.6,548.6 580.9,548.7 582.2,548.9 583.5,548.4 584.8,549.9 586.1,548.5 587.4,550.1 588.7,548.4 590.0,548.3 591.3,548.3 592.6,548.6 593.9,549.9 595.2,548.9 596.5,549.2 597.8,548.8 599.1,548.7 600.4,548.4 601.7,549.4 603.0,548.6 604.3,548.6 605.6,549.0 606.9,549.9 608.2,548.2 609.5,549.6 610.8,549.1 612.1,548.2 613.4,550.0 614.7,549.9 616.0,548.7 617.3,548.5 618.6,549.6 619.9,549.7 621.2,549.7 622.5,549.3 623.8,549.8 625.1,550.1 626.4,548.8 627.7,548.7 629.0,549.6 630.3,548.4 631.6,549.4 632.9,548.7 634.2,548.3 635.5,549.2 636.8,549.6 638.1,549.2 639.4,548.8 640.7,549.7 642.0,548.3 643.3,549.6 644.6,548.8 645.9,550.2 647.2,548.4 648.5,549.2 649.8,548.7 651.1,549.8 652.4,548.7 653.7,549.0 655.0,548.8 656.3,549.9 657.6,550.3 658.9,548.7 660.2,549.2 661.5,550.3 662.8,549.2 664.1,550.3 665.4,548.5 666.7,549.2 668.0,550.2 669.3,550.4 670.6,549.1 671.9,550.3 673.2,548.5 674.5,549.2 675.8,549.1 677.1,548.4 678.4,549.1 679.7,548.7 681.0,548.8 682.3,550.1 683.6,549.3 684.9,549.4 686.2,550.3 687.5,549.2 688.8,548.5 690.1,550.1 691.4,548.6 692.7,548.6 694.0,549.0 695.3,550.3 696.6,549.0 697.9,549.7 699.2,549.9 700.5,549.1 701.8,550.0 703.1,549.8 704.4,548.6 705.7,549.5 707.0,550.4 708.3,549.0 709.6,549.5 710.9,548.9 712.2,550.0 713.5,550.1 714.8,549.2 716.1,549.3 717.4,548.7 718.7,550.1 720.0,548.7 721.3,549.7 722.6,550.5 723.9,550.6 725.2,548.8 726.5,549.6 727.8,549.5 729.1,549.4 730.4,550.0 731.7,550.3 733.0,548.9 734.3,549.2 735.6,549.4 736.9,549.0 738.2,549.1 739.5,550.4 740.8,549.3 742.1,550.6 743.4,549.1 744.7,550.0 746.0,548.9 747.3,550.3 748.6,550.5 749.9,549.3 751.2,549.1 752.5,549.9 753.8,549.4 755.1,549.6 756.4,550.3 757.7,548.9 759.0,550.0 760.3,549.5 761.6,549.1 762.9,549.9 764.2,549.1 765.5,549.4 766.8,549.1 768.1,549.2 769.4,549.9 770.7,549.0 772.0,549.9 773.3,549.0 774.6,550.2 775.9,549.3 777.2,550.7 778.5,549.9 779.8,549.6 781.1,550.8 782.4,549.2 783.7,549.2 785.0,550.6 786.3,550.5 787.6,550.6 788.9,549.2 790.2,549.9 791.5,550.7 792.8,550.1 794.1,549.9 795.4,549.4 796.7,550.7 798.0,549.8 799.3,550.8 800.6,549.1 801.9,550.8 803.2,549.0 804.5,549.7 805.8,550.1 807.1,549.2 808.4,549.3 808.6,549.3 808.6,580.5 805.9,580.5 805.9,568.9 808.4,568.9 807.1,569.3 805.8,569.3 804.5,569.4 803.2,569.4 801.9,569.0 800.6,569.4 799.3,568.7 798.0,569.3 796.7,568.6 795.4,569.0 794.1,568.6 792.8,568.9 791.5,568.6 790.2,569.1 788.9,568.5 787.6,569.0 786.3,568.9 785.0,568.9 783.7,568.5 782.4,569.2 781.1,568.9 779.8,569.4 778.5,568.9 777.2,568.8 775.9,568.8 774.6,568.9 773.3,568.7 772.0,569.1 770.7,568.9 769.4,568.6 768.1,569.3 766.8,568.8 765.5,569.2 764.2,568.5 762.9,569.2 761.6,568.8 760.3,568.6 759.0,568.7 757.7,569.1 756.4,569.4 755.1,568.8 753.8,569.4 752.5,569.4 751.2,569.5 749.9,568.6 748.6,568.5 747.3,569.3 746.0,569.0 744.7,569.5 743.4,569.3 742.1,569.0 740.8,568.9 739.5,569.1 738.2,568.7 736.9,568.7 735.6,569.2 734.3,569.1 733.0,569.3 731.7,569.2 730.4,569.2 729.1,569.1 727.8,568.7 726.5,569.2 725.2,568.6 723.9,568.8 722.6,569.4 721.3,568.8 720.0,568.5 718.7,568.7 717.4,568.7 716.1,569.3 714.8,568.8 713.5,569.1 712.2,569.3 710.9,569.3 709.6,569.4 708.3,568.9 707.0,568.9 705.7,569.5 704.4,568.7 703.1,569.4 701.8,569.4 700.5,568.5 699.2,568.8 697.9,568.8 696.6,569.5 695.3,568.8 694.0,569.2 692.7,569.4 691.4,568.5 690.1,569.3 688.8,568.9 687.5,569.4 686.2,568.7 684.9,568.9 683.6,568.5 682.3,569.3 681.0,568.9 679.7,569.5 678.4,569.5 677.1,568.8 675.8,568.7 674.5,568.9 673.2,569.2 671.9,569.2 670.6,568.7 669.3,569.4 668.0,569.2 666.7,569.4 665.4,568.6 664.1,568.6 662.8,568.7 661.5,568.6 660.2,569.2 658.9,568.7 657.6,569.0 656.3,568.8 655.0,568.7 653.7,569.3 652.4,569.5 651.1,569.0 649.8,569.3 648.5,569.2 647.2,568.8 645.9,568.7 644.6,569.2 643.3,568.9 642.0,569.0 640.7,568.8 639.4,569.5 638.1,568.7 636.8,569.4 635.5,569.5 634.2,568.8 632.9,569.1 631.6,568.9 630.3,569.0 629.0,568.6 627.7,569.1 626.4,568.6 625.1,569.1 623.8,568.7 622.5,568.5 621.2,569.0 619.9,569.1 618.6,569.4 617.3,569.0 616.0,568.6 614.7,569.5 613.4,569.3 612.1,568.9 610.8,569.1 609.5,569.4 608.2,568.5 606.9,569.4 605.6,569.5 604.3,568.9 603.0,568.8 601.7,569.4 600.4,569.0 599.1,569.5 597.8,568.6 596.5,568.9 595.2,568.9 593.9,569.2 592.6,569.1 591.3,568.7 590.0,568.8 588.7,568.7 587.4,568.9 586.1,569.4 584.8,569.0 583.5,568.7 582.2,568.7 580.9,569.1 579.6,569.2 578.3,569.5 577.0,568.8 575.7,569.0 574.4,569.4 573.1,568.8 571.8,569.3 570.5,569.2 569.2,569.2 567.9,569.4 566.6,569.1 565.3,569.4 564.0,568.9 562.7,569.0 561.4,568.7 560.1,568.8 558.8,568.6 557.5,568.8 556.2,568.9 554.9,569.5 553.6,568.9 552.3,569.4 551.0,569.4 549.7,569.3 548.4,568.5 547.1,568.8 545.8,568.6 544.5,569.0 543.2,568.5 541.9,569.0 540.6,568.7 539.3,569.4 538.0,569.3 536.7,569.5 535.4,568.6 534.1,568.7 532.8,568.7 531.5,568.9 530.2,569.3 528.9,568.5 527.6,569.5 526.3,569.4 525.0,569.0 523.7,569.0 522.4,569.2 521.1,569.2 519.8,568.6 518.5,569.1 517.2,569.2 515.9,568.6 514.6,569.1 513.3,569.3 512.0,569.0 510.7,569.0 509.4,569.2 508.1,569.2 506.8,568.6 505.5,569.2 504.2,569.2 502.9,569.0 501.6,569.3 500.3,569.0 499.0,569.1 497.7,569.1 496.4,568.6 495.1,568.6 493.8,568.7 492.5,569.2 491.2,569.1 489.9,569.3 488.6,569.0 487.3,568.6 486.0,569.2 484.7,569.4 483.4,568.5 482.1,569.2 480.8,569.5 479.5,568.9 478.2,569.2 476.9,569.3 475.6,569.1 474.3,568.8 473.0,568.5 471.7,568.6 470.4,568.5 469.1,568.7 467.8,569.0 466.5,568.5 465.2,568.8 463.9,568.7 462.6,569.5 461.3,568.8 460.0,568.7 458.7,568.8 457.4,568.8 456.1,569.4 454.8,568.6 453.5,568.8 452.2,568.6 450.9,568.6 449.6,568.9 448.3,569.2 447.0,568.8 445.7,569.2 444.4,568.9 443.1,569.0 441.8,569.3 440.5,569.4 439.2,568.7 437.9,569.2 436.6,568.8 435.3,568.8 434.0,569.0 432.7,569.3 431.4,568.8 430.1,568.6 428.8,568.6 427.5,569.0 426.2,568.8 424.9,569.1 423.6,569.0 422.3,568.6 421.0,568.6 419.7,569.1 418.4,568.6 417.1,569.2 415.8,568.6 414.5,569.1 413.2,568.6 411.9,569.3 410.6,568.9 409.3,568.8 408.0,568.5 406.7,568.6 405.4,569.3 404.1,568.6 402.8,569.1 401.5,568.5 400.2,569.1 398.9,569.2 397.6,568.7 396.3,569.0 395.0,568.7 393.7,569.5 392.4,568.9 391.1,568.7 389.8,569.4 388.5,569.2 387.2,568.7 385.9,569.3 384.6,568.6 383.3,568.6 382.0,568.6 380.7,569.3 379.4,569.1 378.1,569.4 376.8,569.2 375.5,569.0 374.2,569.0 372.9,569.0 371.6,569.1 370.3,569.4 369.0,569.1 367.7,569.3 366.4,568.7 365.1,568.6 363.8,569.1 362.5,568.8 361.2,569.2 359.9,568.7 358.6,568.5 357.3,568.9 356.0,569.0 354.7,569.0 353.4,568.9 352.1,569.1 350.8,568.9 349.5,568.6 348.2,568.8 346.9,568.7 345.6,568.8 344.3,569.3 343.0,568.9 341.7,569.0 340.4,569.5 339.1,568.6 337.8,568.9 336.5,569.5 335.2,568.6 333.9,569.4 332.6,568.6 331.3,569.2 330.0,568.9 328.7,569.5 327.4,568.8 326.1,568.7 324.8,569.3 323.5,569.4 322.2,568.6 320.9,569.2 319.6,569.3 318.3,569.1 317.0,568.7 315.7,568.7 314.4,569.5 313.1,569.4 311.8,569.5 310.5,568.8 309.2,568.5 307.9,568.9 306.6,568.7 305.3,569.3 304.0,569.4 302.7,569.3 301.4,568.8 300.1,569.0 298.8,568.7 297.5,568.8 296.2,569.4 294.9,569.0 293.6,569.0 292.3,569.0 291.0,568.5 289.7,569.3 288.4,568.8 287.1,568.6 285.8,569.0 284.5,569.3 283.2,568.9 281.9,568.8 280.6,569.1 279.3,568.5 278.0,568.6 276.7,568.5 275.4,568.8 274.1,568.7 272.8,568.6 271.5,568.6 270.2,568.9 268.9,569.4 267.6,569.4 266.3,569.2 265.0,569.0 263.7,569.5 262.4,568.9 261.1,568.5 259.8,569.1 258.5,568.7 257.2,568.7 255.9,569.5 254.6,568.9 253.3,568.8 252.0,569.3 250.7,569.1 249.4,568.6 248.1,568.9 246.8,568.7 245.5,568.6 244.2,568.7 242.9,568.6 241.6,569.0 240.3,569.4 239.0,569.3 237.7,568.7 236.9,569.2 236.1,569.5 235.3,569.3 234.5,569.5 233.7,569.7 232.9,569.6 232.1,568.9 231.3,569.1 230.5,569.4 229.7,570.1 228.9,569.9 228.1,569.8 227.3,569.6 226.5,570.3 225.7,570.1 224.9,570.1 224.1,570.7 223.3,570.3 222.5,571.0 221.7,571.4 220.9,571.3 220.1,571.8 219.3,572.0 218.5,573.2 217.7,573.9 216.9,574.2 216.1,575.3 215.3,576.6 214.5,580.5 213.7,590.1 212.9,618.4 212.1,704.8 211.3,801.8 210.5,801.8 209.7,801.8 208.9,801.8 208.1,801.8Z" fill="#e30d18"/>
<path d="M207.7,801.8 207.7,641.1 208.1,641.1 208.9,640.3 209.7,639.5 210.5,638.6 211.3,637.6 212.1,637.4 212.9,636.8 213.7,635.6 214.5,635.1 215.3,634.6 216.1,633.6 216.9,633.6 217.7,632.7 218.5,633.3 219.3,632.1 220.1,631.8 220.9,630.9 221.7,632.2 222.5,631.1 223.3,630.8 224.1,631.3 224.9,629.6 225.7,629.5 226.5,628.9 227.3,629.9 228.1,628.4 228.9,629.3 229.7,629.3 230.5,629.4 231.3,627.8 232.1,628.4 232.9,627.9 233.7,628.0 234.5,628.2 235.3,627.3 236.1,628.3 236.9,628.3 237.7,627.4 239.0,628.1 240.3,627.2 241.6,627.7 242.9,626.7 244.2,626.9 245.5,627.5 246.8,627.4 248.1,626.0 249.4,627.6 250.7,626.2 252.0,626.9 253.3,626.7 254.6,626.4 255.9,625.7 257.2,627.3 258.5,627.2 259.8,627.0 261.1,627.1 262.4,626.6 263.7,626.7 265.0,626.4 266.3,626.6 267.6,626.4 268.9,627.1 270.2,626.0 271.5,625.6 272.8,627.1 274.1,625.9 275.4,626.3 276.7,625.6 278.0,625.9 279.3,625.9 280.6,625.5 281.9,626.9 283.2,626.4 284.5,625.7 285.8,626.2 287.1,626.5 288.4,625.9 289.7,625.8 291.0,626.0 292.3,625.4 293.6,626.9 294.9,626.4 296.2,625.9 297.5,625.9 298.8,625.7 300.1,626.9 301.4,625.5 302.7,626.2 304.0,625.6 305.3,627.1 306.6,625.7 307.9,626.0 309.2,626.5 310.5,626.9 311.8,626.7 313.1,626.8 314.4,626.8 315.7,627.1 317.0,627.0 318.3,626.8 319.6,626.3 320.9,626.5 322.2,626.8 323.5,626.5 324.8,626.2 326.1,626.7 327.4,626.1 328.7,626.1 330.0,626.9 331.3,626.3 332.6,625.8 333.9,625.7 335.2,626.5 336.5,627.1 337.8,627.0 339.1,627.2 340.4,626.2 341.7,625.5 343.0,626.5 344.3,627.1 345.6,626.5 346.9,626.4 348.2,626.7 349.5,626.1 350.8,626.1 352.1,626.7 353.4,625.7 354.7,626.2 356.0,626.6 357.3,627.3 358.6,626.3 359.9,627.3 361.2,626.5 362.5,625.8 363.8,627.3 365.1,626.5 366.4,627.2 367.7,627.0 369.0,627.2 370.3,625.8 371.6,626.5 372.9,625.9 374.2,626.7 375.5,626.2 376.8,626.7 378.1,626.3 379.4,626.1 380.7,625.6 382.0,627.1 383.3,626.8 384.6,626.5 385.9,626.1 387.2,626.6 388.5,626.6 389.8,625.8 391.1,627.0 392.4,625.8 393.7,626.6 395.0,626.7 396.3,625.7 397.6,627.0 398.9,626.9 400.2,625.9 401.5,625.8 402.8,626.7 404.1,626.5 405.4,625.8 406.7,626.7 408.0,626.5 409.3,626.1 410.6,627.3 411.9,626.2 413.2,627.1 414.5,626.8 415.8,626.6 417.1,626.1 418.4,627.0 419.7,626.3 421.0,626.6 422.3,626.1 423.6,626.4 424.9,627.5 426.2,626.7 427.5,626.7 428.8,626.5 430.1,626.0 431.4,626.4 432.7,626.1 434.0,626.2 435.3,626.9 436.6,626.0 437.9,625.9 439.2,627.3 440.5,626.6 441.8,627.2 443.1,626.4 444.4,626.4 445.7,626.1 447.0,626.7 448.3,626.6 449.6,627.1 450.9,627.4 452.2,626.5 453.5,626.9 454.8,627.4 456.1,626.7 457.4,626.3 458.7,626.5 460.0,626.8 461.3,626.5 462.6,626.1 463.9,626.4 465.2,626.0 466.5,626.5 467.8,626.4 469.1,626.4 470.4,626.1 471.7,626.4 473.0,627.5 474.3,627.4 475.6,626.1 476.9,625.9 478.2,627.1 479.5,626.6 480.8,627.1 482.1,627.4 483.4,627.0 484.7,626.1 486.0,627.2 487.3,626.0 488.6,626.2 489.9,626.4 491.2,626.0 492.5,627.1 493.8,627.4 495.1,627.2 496.4,626.7 497.7,626.5 499.0,627.4 500.3,626.4 501.6,627.5 502.9,626.0 504.2,626.1 505.5,626.3 506.8,627.3 508.1,627.2 509.4,627.3 510.7,626.5 512.0,627.7 513.3,627.6 514.6,627.3 515.9,627.1 517.2,626.1 518.5,626.7 519.8,627.7 521.1,627.4 522.4,627.3 523.7,626.5 525.0,627.7 526.3,627.0 527.6,626.1 528.9,626.7 530.2,626.6 531.5,627.3 532.8,626.4 534.1,627.0 535.4,627.7 536.7,626.6 538.0,626.3 539.3,626.6 540.6,627.0 541.9,626.3 543.2,627.1 544.5,627.4 545.8,626.3 547.1,626.7 548.4,626.2 549.7,626.4 551.0,626.9 552.3,626.7 553.6,626.7 554.9,626.2 556.2,627.9 557.5,626.2 558.8,627.9 560.1,626.3 561.4,626.9 562.7,627.1 564.0,627.8 565.3,627.2 566.6,627.3 567.9,626.6 569.2,626.2 570.5,627.6 571.8,626.5 573.1,627.7 574.4,626.4 575.7,627.6 577.0,626.7 578.3,627.6 579.6,626.8 580.9,626.8 582.2,626.6 583.5,627.2 584.8,627.6 586.1,627.8 587.4,627.1 588.7,626.5 590.0,627.2 591.3,627.4 592.6,627.0 593.9,626.4 595.2,627.0 596.5,627.5 597.8,627.7 599.1,627.6 600.4,626.7 601.7,627.1 603.0,626.8 604.3,627.4 605.6,627.9 606.9,626.8 608.2,627.2 609.5,626.6 610.8,626.8 612.1,628.0 613.4,627.8 614.7,628.0 616.0,627.7 617.3,627.5 618.6,626.8 619.9,628.0 621.2,627.4 622.5,626.9 623.8,626.3 625.1,627.5 626.4,626.4 627.7,627.0 629.0,627.0 630.3,627.3 631.6,626.5 632.9,627.9 634.2,626.5 635.5,626.8 636.8,627.3 638.1,627.2 639.4,626.7 640.7,626.5 642.0,627.4 643.3,627.1 644.6,627.1 645.9,627.3 647.2,627.7 648.5,628.1 649.8,626.5 651.1,627.1 652.4,628.1 653.7,627.8 655.0,627.8 656.3,626.8 657.6,626.4 658.9,626.8 660.2,627.7 661.5,628.0 662.8,628.0 664.1,628.0 665.4,626.7 666.7,627.0 668.0,627.6 669.3,626.6 670.6,627.7 671.9,627.7 673.2,627.5 674.5,627.4 675.8,626.6 677.1,627.6 678.4,626.8 679.7,627.9 681.0,626.6 682.3,626.6 683.6,626.8 684.9,627.0 686.2,627.1 687.5,628.0 688.8,627.7 690.1,628.2 691.4,627.1 692.7,627.4 694.0,627.9 695.3,626.8 696.6,627.7 697.9,627.3 699.2,628.0 700.5,628.1 701.8,626.6 703.1,626.9 704.4,627.6 705.7,626.8 707.0,627.4 708.3,627.2 709.6,626.5 710.9,627.1 712.2,627.4 713.5,626.6 714.8,627.7 716.1,627.0 717.4,627.0 718.7,627.5 720.0,628.3 721.3,627.6 722.6,628.1 723.9,627.7 725.2,627.2 726.5,628.0 727.8,628.3 729.1,627.1 730.4,627.9 731.7,627.7 733.0,627.6 734.3,626.7 735.6,627.2 736.9,627.5 738.2,627.0 739.5,627.2 740.8,626.6 742.1,627.4 743.4,627.6 744.7,626.9 746.0,627.2 747.3,627.9 748.6,628.3 749.9,628.3 751.2,626.8 752.5,627.7 753.8,627.3 755.1,627.4 756.4,626.8 757.7,628.3 759.0,627.1 760.3,627.0 761.6,627.9 762.9,627.4 764.2,627.8 765.5,627.8 766.8,628.0 768.1,627.8 769.4,628.1 770.7,627.3 772.0,627.0 773.3,628.3 774.6,628.4 775.9,627.3 777.2,627.9 778.5,627.9 779.8,626.8 781.1,626.8 782.4,627.3 783.7,627.8 785.0,627.6 786.3,628.4 787.6,628.5 788.9,627.8 790.2,627.3 791.5,627.0 792.8,628.1 794.1,628.2 795.4,627.7 796.7,627.8 798.0,627.9 799.3,628.1 800.6,628.1 801.9,628.2 803.2,628.2 804.5,627.6 805.8,627.7 807.1,627.0 808.4,627.7 808.6,627.7 808.6,651.8 805.9,651.8 805.9,642.2 808.4,642.2 807.1,641.4 805.8,642.5 804.5,641.7 803.2,642.6 801.9,641.8 800.6,642.3 799.3,641.7 798.0,641.8 796.7,642.2 795.4,642.1 794.1,641.9 792.8,641.5 791.5,641.6 790.2,641.5 788.9,642.3 787.6,641.5 786.3,642.1 785.0,641.4 783.7,641.7 782.4,642.0 781.1,642.2 779.8,641.9 778.5,641.8 777.2,641.9 775.9,642.3 774.6,641.7 773.3,642.2 772.0,642.0 770.7,641.6 769.4,642.5 768.1,641.5 766.8,642.6 765.5,641.6 764.2,642.4 762.9,641.6 761.6,641.7 760.3,641.7 759.0,641.4 757.7,641.7 756.4,642.0 755.1,642.4 753.8,642.3 752.5,642.6 751.2,641.6 749.9,642.1 748.6,641.8 747.3,642.1 746.0,641.8 744.7,641.5 743.4,641.8 742.1,641.9 740.8,642.4 739.5,641.6 738.2,641.7 736.9,641.8 735.6,642.6 734.3,641.8 733.0,641.9 731.7,641.8 730.4,642.0 729.1,642.3 727.8,642.2 726.5,642.4 725.2,641.7 723.9,642.2 722.6,642.3 721.3,642.3 720.0,641.4 718.7,642.5 717.4,642.1 716.1,642.0 714.8,641.7 713.5,641.6 712.2,642.6 710.9,641.4 709.6,642.1 708.3,641.8 707.0,642.1 705.7,641.8 704.4,641.5 703.1,642.5 701.8,641.8 700.5,642.1 699.2,641.9 697.9,641.6 696.6,641.9 695.3,642.4 694.0,641.4 692.7,642.4 691.4,641.6 690.1,641.4 688.8,642.4 687.5,642.0 686.2,641.6 684.9,642.2 683.6,642.1 682.3,642.4 681.0,641.4 679.7,642.1 678.4,641.9 677.1,641.7 675.8,642.5 674.5,642.4 673.2,641.5 671.9,641.5 670.6,642.5 669.3,641.8 668.0,642.4 666.7,642.3 665.4,642.3 664.1,642.4 662.8,642.1 661.5,642.1 660.2,641.9 658.9,641.8 657.6,642.1 656.3,641.8 655.0,641.5 653.7,641.6 652.4,642.1 651.1,641.6 649.8,642.4 648.5,642.3 647.2,641.5 645.9,642.3 644.6,642.4 643.3,641.5 642.0,641.5 640.7,642.0 639.4,642.1 638.1,642.1 636.8,641.7 635.5,641.5 634.2,642.4 632.9,642.1 631.6,641.6 630.3,641.9 629.0,642.0 627.7,642.1 626.4,642.2 625.1,641.9 623.8,641.6 622.5,642.5 621.2,641.8 619.9,642.0 618.6,642.1 617.3,642.1 616.0,641.5 614.7,642.1 613.4,642.6 612.1,642.5 610.8,642.0 609.5,641.5 608.2,641.8 606.9,641.9 605.6,641.6 604.3,642.4 603.0,641.9 601.7,641.9 600.4,642.2 599.1,641.9 597.8,642.4 596.5,641.4 595.2,641.6 593.9,641.4 592.6,642.6 591.3,641.6 590.0,641.5 588.7,641.8 587.4,642.0 586.1,642.5 584.8,642.2 583.5,642.2 582.2,641.4 580.9,642.4 579.6,642.1 578.3,641.8 577.0,641.6 575.7,642.3 574.4,642.3 573.1,642.5 571.8,642.2 570.5,641.8 569.2,642.3 567.9,641.6 566.6,641.7 565.3,642.5 564.0,642.2 562.7,641.4 561.4,641.6 560.1,642.0 558.8,642.1 557.5,642.3 556.2,642.3 554.9,641.4 553.6,641.6 552.3,642.0 551.0,641.5 549.7,642.2 548.4,641.7 547.1,641.6 545.8,641.7 544.5,642.4 543.2,642.0 541.9,642.2 540.6,642.3 539.3,642.4 538.0,642.1 536.7,642.5 535.4,641.8 534.1,641.9 532.8,641.7 531.5,642.2 530.2,641.6 528.9,641.6 527.6,641.8 526.3,641.7 525.0,642.2 523.7,642.1 522.4,642.4 521.1,641.5 519.8,641.6 518.5,642.0 517.2,642.2 515.9,641.9 514.6,642.4 513.3,642.2 512.0,641.9 510.7,641.5 509.4,642.4 508.1,641.9 506.8,641.5 505.5,642.5 504.2,642.3 502.9,641.7 501.6,642.1 500.3,641.5 499.0,642.3 497.7,641.4 496.4,642.2 495.1,641.7 493.8,642.1 492.5,641.6 491.2,641.8 489.9,641.9 488.6,641.6 487.3,641.4 486.0,642.3 484.7,642.5 483.4,641.6 482.1,641.8 480.8,641.7 479.5,642.2 478.2,641.8 476.9,642.2 475.6,641.7 474.3,642.4 473.0,642.3 471.7,641.9 470.4,642.3 469.1,641.7 467.8,641.5 466.5,642.0 465.2,642.1 463.9,642.2 462.6,642.4 461.3,641.5 460.0,641.8 458.7,642.2 457.4,642.3 456.1,642.1 454.8,641.5 453.5,641.7 452.2,641.7 450.9,642.1 449.6,641.7 448.3,641.6 447.0,641.7 445.7,642.5 444.4,642.6 443.1,642.3 441.8,641.6 440.5,642.4 439.2,641.6 437.9,641.7 436.6,642.2 435.3,641.8 434.0,641.4 432.7,641.7 431.4,641.7 430.1,642.4 428.8,641.5 427.5,641.9 426.2,641.5 424.9,641.7 423.6,641.6 422.3,641.6 421.0,642.4 419.7,642.5 418.4,641.7 417.1,641.9 415.8,642.5 414.5,642.6 413.2,641.8 411.9,642.5 410.6,642.4 409.3,641.5 408.0,642.1 406.7,642.6 405.4,642.5 404.1,641.9 402.8,641.8 401.5,642.5 400.2,641.7 398.9,641.8 397.6,641.8 396.3,641.4 395.0,642.4 393.7,642.4 392.4,641.6 391.1,641.5 389.8,641.6 388.5,641.9 387.2,642.6 385.9,642.2 384.6,642.1 383.3,641.6 382.0,642.1 380.7,641.8 379.4,642.2 378.1,642.3 376.8,641.5 375.5,642.6 374.2,642.1 372.9,641.6 371.6,642.0 370.3,641.7 369.0,641.9 367.7,642.6 366.4,642.2 365.1,641.5 363.8,642.4 362.5,641.8 361.2,642.4 359.9,641.8 358.6,642.1 357.3,642.0 356.0,642.5 354.7,642.1 353.4,641.8 352.1,642.0 350.8,642.5 349.5,642.1 348.2,641.9 346.9,642.0 345.6,642.6 344.3,642.3 343.0,642.0 341.7,641.5 340.4,642.5 339.1,641.6 337.8,642.4 336.5,641.8 335.2,641.5 333.9,642.1 332.6,641.8 331.3,641.9 330.0,642.4 328.7,641.8 327.4,642.1 326.1,641.8 324.8,641.9 323.5,641.9 322.2,642.4 320.9,641.9 319.6,642.6 318.3,642.1 317.0,641.4 315.7,641.6 314.4,642.3 313.1,642.0 311.8,642.3 310.5,642.0 309.2,642.4 307.9,642.2 306.6,641.8 305.3,642.3 304.0,641.7 302.7,642.3 301.4,641.9 300.1,641.9 298.8,641.5 297.5,642.3 296.2,642.6 294.9,642.0 293.6,641.7 292.3,641.8 291.0,642.1 289.7,642.0 288.4,641.7 287.1,642.0 285.8,642.1 284.5,642.3 283.2,642.2 281.9,642.1 280.6,642.1 279.3,641.7 278.0,641.9 276.7,641.6 275.4,641.6 274.1,642.0 272.8,642.0 271.5,642.1 270.2,642.2 268.9,641.7 267.6,641.9 266.3,641.7 265.0,642.5 263.7,641.7 262.4,641.7 261.1,641.4 259.8,642.5 258.5,642.2 257.2,642.3 255.9,641.6 254.6,642.0 253.3,641.5 252.0,641.9 250.7,641.9 249.4,642.5 248.1,642.0 246.8,642.5 245.5,642.5 244.2,642.6 242.9,641.9 241.6,641.9 240.3,642.6 239.0,642.2 237.7,642.1 236.9,642.7 236.1,641.8 235.3,642.3 234.5,642.7 233.7,641.9 232.9,641.9 232.1,642.4 231.3,642.0 230.5,642.8 229.7,642.1 228.9,642.7 228.1,642.9 227.3,642.6 226.5,642.6 225.7,643.6 224.9,642.9 224.1,643.2 223.3,643.2 222.5,644.1 221.7,644.3 220.9,645.1 220.1,645.4 219.3,645.7 218.5,646.4 217.7,646.8 216.9,647.3 216.1,648.3 215.3,650.0 214.5,653.2 213.7,662.4 212.9,687.5 212.1,764.7 211.3,801.8 210.5,801.8 209.7,801.8 208.9,801.8 208.1,801.8Z" fill="#0d4c97"/>
<rect x="208.2" y="484.6" width="704.8" height="398.6" fill="none" stroke="#0a0a14" stroke-width="1.7"/>
<g fill="none" stroke="#0a0a18" stroke-width="2.1" stroke-linejoin="miter"><path d="M93.4,381 V851.9 H410.6 V634.5"/><path d="M580.2,381 V550.5"/><path d="M953.6,381 V581.7 H753.8"/></g>
<g font-family="'Liberation Sans', Arial, sans-serif" font-size="19.6" fill="#1d1d1f"><text x="176.4" y="889.3" textLength="11.6" lengthAdjust="spacingAndGlyphs">0</text><text x="164.8" y="822.9" textLength="23.2" lengthAdjust="spacingAndGlyphs">20</text><text x="164.8" y="756.4" textLength="23.2" lengthAdjust="spacingAndGlyphs">40</text><text x="164.8" y="690.0" textLength="23.2" lengthAdjust="spacingAndGlyphs">60</text><text x="164.8" y="623.6" textLength="23.2" lengthAdjust="spacingAndGlyphs">80</text><text x="153.2" y="557.1" textLength="34.8" lengthAdjust="spacingAndGlyphs">100</text><text x="153.2" y="490.7" textLength="34.8" lengthAdjust="spacingAndGlyphs">120</text><text x="202.1" y="917.2" textLength="11.6" lengthAdjust="spacingAndGlyphs">0</text><text x="325.7" y="917.2" textLength="46.4" lengthAdjust="spacingAndGlyphs">5000</text><text x="460.8" y="917.2" textLength="58.0" lengthAdjust="spacingAndGlyphs">10000</text><text x="601.8" y="917.2" textLength="58.0" lengthAdjust="spacingAndGlyphs">15000</text><text x="742.7" y="917.2" textLength="58.0" lengthAdjust="spacingAndGlyphs">20000</text><text x="883.7" y="917.2" textLength="58.0" lengthAdjust="spacingAndGlyphs">25000</text></g>
<text x="560.8" y="951.4" text-anchor="middle" textLength="79" lengthAdjust="spacingAndGlyphs" font-family="'Liberation Sans', Arial, sans-serif" font-size="22.6" fill="#1d1d1f">Time [s]</text>
<text transform="translate(147.6,684.4) rotate(-90)" text-anchor="middle" textLength="172" lengthAdjust="spacingAndGlyphs" font-family="'Liberation Sans', Arial, sans-serif" font-size="22.6" fill="#1d1d1f">Temperature [°C]</text>
</svg>
</body></html>
